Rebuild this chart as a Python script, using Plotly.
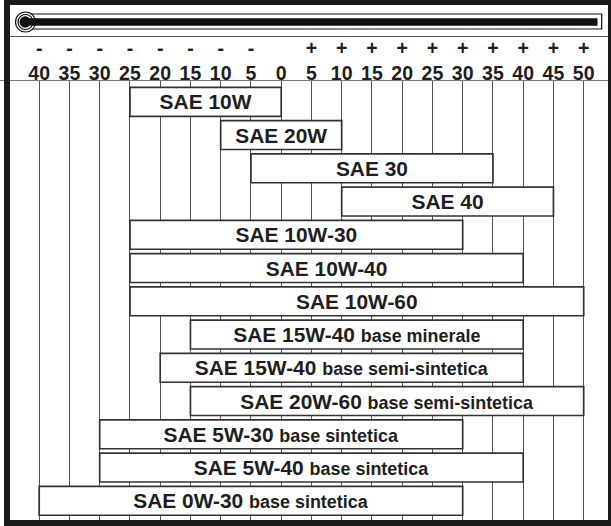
import plotly.graph_objects as go

# ---- data ----
temps = list(range(-40, 55, 5))
tick_signs = ["-" if t < 0 else ("+" if t > 0 else "&nbsp;") for t in temps]
tick_nums = [str(abs(t)) for t in temps]

grades = ["SAE 10W", "SAE 20W", "SAE 30", "SAE 40", "SAE 10W-30", "SAE 10W-40",
          "SAE 10W-60", "SAE 15W-40", "SAE 15W-40", "SAE 20W-60", "SAE 5W-30",
          "SAE 5W-40", "SAE 0W-30"]
bases = ["", "", "", "", "", "", "", "base minerale", "base semi-sintetica",
         "base semi-sintetica", "base sintetica", "base sintetica", "base sintetica"]
t_min = [-25, -10, -5, 10, -25, -25, -25, -15, -20, -15, -30, -30, -40]
t_max = [0, 10, 35, 45, 30, 40, 50, 40, 40, 50, 30, 40, 30]

W, H = 611, 526
FONT = "Liberation Sans, Arial, sans-serif"

def px_x(p):
    return p / W

def px_y(p):
    return 1 - p / H

# axis mapping: pixel = 281.2 + 6.05 * temp
x0 = -281.2 / 6.05
x1 = (W - 281.2) / 6.05

rows = [f"{g} {b}".strip() for g, b in zip(grades, bases)]
labels = [g if not b else f"{g} <span style='font-size:18px'>{b}</span>"
          for g, b in zip(grades, bases)]

fig = go.Figure(go.Bar(
    y=rows,
    base=t_min,
    x=[b - a for a, b in zip(t_min, t_max)],
    orientation="h",
    width=0.87,
    marker=dict(color="white", line=dict(color="#333333", width=1.7)),
    text=labels,
    textposition="inside",
    insidetextanchor="middle",
    textangle=0,
    textfont=dict(family=FONT, size=21, color="#1e1e1e", weight="bold"),
    hoverinfo="skip",
))

fig.update_layout(
    width=W, height=H,
    margin=dict(l=0, r=0, t=0, b=0),
    paper_bgcolor="white", plot_bgcolor="white",
    showlegend=False,
    xaxis=dict(
        range=[x0, x1], domain=[0, 1], side="top", anchor="y",
        tickmode="array", tickvals=temps,
        ticktext=[f"{s}<br>{n}" for s, n in zip(tick_signs, tick_nums)],
        tickfont=dict(family=FONT, size=19.5, color="#1e1e1e", weight="bold"),
        ticklabelstandoff=-8,
        ticks="", showgrid=True, gridcolor="#555555", gridwidth=1,
        zeroline=False, showline=True, linecolor="#777777", linewidth=1,
        fixedrange=True,
    ),
    yaxis=dict(
        type="category", categoryorder="array", categoryarray=rows,
        range=[12.578, -0.626], domain=[px_y(520), px_y(81)],
        visible=False, fixedrange=True,
    ),
)

shapes = []
# separator line under thermometer
shapes.append(dict(type="line", xref="paper", yref="paper",
                   x0=px_x(10), x1=px_x(608), y0=px_y(36.5), y1=px_y(36.5),
                   line=dict(color="#555555", width=1.2)))
# thermometer tube
shapes.append(dict(type="rect", xref="paper", yref="paper",
                   x0=px_x(28), x1=px_x(601.7), y0=px_y(29), y1=px_y(14),
                   fillcolor="white", line=dict(color="#111111", width=1.2)))
# bulb outer
shapes.append(dict(type="circle", xref="paper", yref="paper",
                   x0=px_x(15.5), x1=px_x(35.5), y0=px_y(32), y1=px_y(12),
                   fillcolor="white", line=dict(color="#111111", width=1.2)))
# bulb inner ring
shapes.append(dict(type="circle", xref="paper", yref="paper",
                   x0=px_x(18), x1=px_x(33), y0=px_y(29.5), y1=px_y(14.5),
                   fillcolor="white", line=dict(color="#111111", width=1.2)))
# mercury column
shapes.append(dict(type="rect", xref="paper", yref="paper",
                   x0=px_x(25), x1=px_x(597.5), y0=px_y(25.7), y1=px_y(18.3),
                   fillcolor="#111111", line=dict(width=0)))
# mercury bulb
shapes.append(dict(type="circle", xref="paper", yref="paper",
                   x0=px_x(19.5), x1=px_x(31), y0=px_y(27.7), y1=px_y(16.2),
                   fillcolor="#111111", line=dict(width=0)))
# heavy outer frame
for (a, b, c, d) in [(4, 10, 0, 526), (4, 611, 0, 5), (608, 611, 0, 526), (4, 611, 520, 526)]:
    shapes.append(dict(type="rect", xref="paper", yref="paper",
                       x0=px_x(a), x1=px_x(b), y0=px_y(d), y1=px_y(c),
                       fillcolor="#1a1a1a", line=dict(width=0)))
fig.update_layout(shapes=shapes)

fig.write_html("out.html", config={"displayModeBar": False},
               post_script="document.body.style.margin='0';document.body.style.padding='0';")
